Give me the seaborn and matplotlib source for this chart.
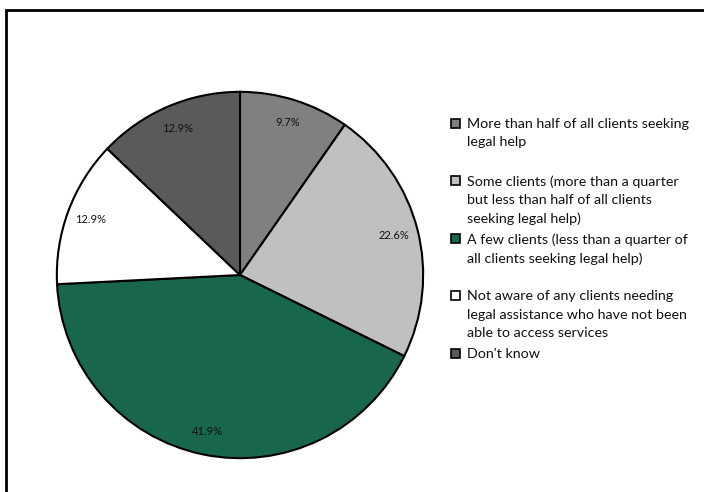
import matplotlib
matplotlib.use("Agg")
import matplotlib.pyplot as plt
from matplotlib.patches import Rectangle
import seaborn as sns

categories = [
    "More than half of all clients seeking\nlegal help",
    "Some clients (more than a quarter\nbut less than half of all clients\nseeking legal help)",
    "A few clients (less than a quarter of\nall clients seeking legal help)",
    "Not aware of any clients needing\nlegal assistance who have not been\nable to access services",
    "Don't know",
]
values = [9.7, 22.6, 41.9, 12.9, 12.9]
colors = ["#808080", "#c0c0c0", "#18664c", "#ffffff", "#5a5a5a"]

sns.set_theme(style="white")
plt.rcParams["font.family"] = ["Lato", "DejaVu Sans"]

W, H = 704, 492
fig = plt.figure(figsize=(W / 100, H / 100), dpi=100)
fig.patch.set_facecolor("white")

cx, cy, r = 240, 275, 185
ax = fig.add_axes([(cx - r) / W, (H - cy - r) / H, 2 * r / W, 2 * r / H])
wedges, texts, autotexts = ax.pie(
    values, colors=colors, startangle=90, counterclock=False, radius=1,
    autopct=lambda p: f"{p:.1f}%", pctdistance=0.87,
    wedgeprops=dict(edgecolor="black", linewidth=1.5),
    textprops=dict(fontsize=8, color="#111111"),
)
ax.set_xlim(-1.01, 1.01)
ax.set_ylim(-1.01, 1.01)
ax.set_aspect("equal")
ax.axis("off")

# legend (manual, Excel-style: marker aligned with first line)
lx, ly0, step = 455, 123, 57.5
for i, (lab, col) in enumerate(zip(categories, colors)):
    y = ly0 + step * i
    fig.patches.append(Rectangle(((lx - 4.5) / W, (H - y - 4.5) / H), 9 / W, 9 / H,
                                 transform=fig.transFigure, facecolor=col,
                                 edgecolor="black", linewidth=1.2))
    fig.text((lx + 12) / W, (H - y + 5) / H, lab, ha="left", va="top",
             fontsize=10.3, linespacing=1.62, color="#111111")

# outer frame
fig.patches.append(Rectangle((5.5 / W, -0.1), 1.2, (H - 10) / H + 0.1,
                             transform=fig.transFigure, fill=False,
                             edgecolor="black", linewidth=2))

fig.savefig("out.png", dpi=100)
